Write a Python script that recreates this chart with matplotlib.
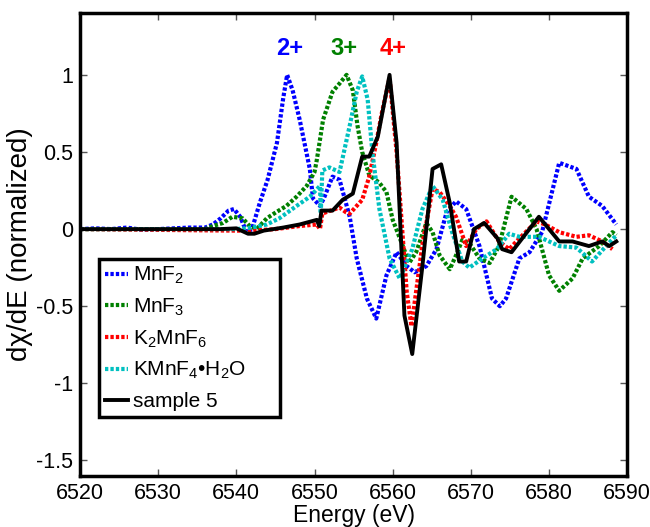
import matplotlib
matplotlib.use("Agg")
import matplotlib.pyplot as plt

plt.rcParams['font.family'] = ['Liberation Sans', 'DejaVu Sans']
plt.rcParams['mathtext.fontset'] = 'custom'
plt.rcParams['mathtext.rm'] = 'Liberation Sans'
plt.rcParams['mathtext.it'] = 'Liberation Sans:italic'

# energies (eV) and normalized derivative values
e_mnf2 = [6520, 6522, 6524, 6526, 6528, 6530, 6532, 6534, 6536, 6537, 6538, 6539, 6539.7,
          6540.5, 6541.3, 6542, 6543, 6544, 6545.2, 6546, 6546.5, 6547.2, 6548.1, 6549.4,
          6549.8, 6550.7, 6551.2, 6552.3, 6553.2, 6554.5, 6555.4, 6556.7, 6557.9, 6559.2,
          6560.5, 6561.8, 6562.8, 6564.3, 6565.6, 6566.9, 6568.1, 6569.4, 6571.1, 6572.7,
          6573.7, 6574.5, 6576.2, 6577.5, 6579.1, 6581.3, 6583.5, 6585.1, 6586.8, 6588.6]
y_mnf2 = [0.0, 0.005, 0.0, 0.01, -0.005, 0.0, 0.005, 0.01, 0.01, 0.03, 0.07, 0.12, 0.13,
          0.08, -0.02, 0.0, 0.17, 0.32, 0.56, 0.85, 1.0, 0.9, 0.71, 0.39,
          0.2, 0.15, 0.2, 0.34, 0.32, 0.08, -0.19, -0.45, -0.58, -0.3,
          -0.15, -0.24, -0.28, -0.24, -0.13, 0.11, 0.18, 0.13, -0.11, -0.45,
          -0.5, -0.45, -0.19, -0.15, -0.02, 0.43, 0.39, 0.21, 0.15, 0.03]

e_mnf3 = [6520, 6530, 6536, 6537, 6538.3, 6539.5, 6540.8, 6541.7, 6542.6, 6543.9, 6545.1,
          6546.4, 6547.7, 6549, 6550, 6550.3, 6551.1, 6552.3, 6553.3, 6554.1, 6554.9,
          6555.5, 6556.1, 6557, 6558.3, 6559.2, 6560, 6561.3, 6562.1, 6563, 6564.3,
          6565.1, 6566, 6567.3, 6568.1, 6568.9, 6569.8, 6571.1, 6572.4, 6573.6, 6575.2,
          6577.1, 6578.4, 6580, 6581.3, 6583, 6584.3, 6586.4, 6588.1, 6588.6]
y_mnf3 = [0.0, 0.0, 0.0, 0.02, 0.04, 0.08, 0.07, 0.02, 0.0, 0.07, 0.11,
          0.15, 0.21, 0.28, 0.37, 0.45, 0.71, 0.89, 0.95, 1.0, 0.9,
          0.67, 0.5, 0.35, 0.3, 0.24, 0.06, -0.11, -0.22, -0.15, 0.04,
          -0.02, -0.17, -0.26, -0.17, -0.07, -0.09, -0.19, -0.22, -0.11, 0.21,
          0.13, 0.0, -0.3, -0.4, -0.32, -0.19, -0.11, -0.02, -0.04]

e_k2mnf6 = [6520, 6530, 6540, 6542, 6545, 6548.1, 6550.3, 6550.7, 6551, 6551.5, 6553.2,
            6554, 6554.5, 6556.1, 6557, 6557.9, 6558.6, 6559.6, 6560.5, 6561.8, 6562.4,
            6563.8, 6565.1, 6566, 6567.3, 6568.1, 6569.4, 6570.7, 6572, 6573.6, 6574.9,
            6576.2, 6578.4, 6579.5, 6581.3, 6583.5, 6585.1, 6586.8, 6588.1]
y_k2mnf6 = [0.0, -0.005, -0.01, -0.01, 0.0, 0.02, 0.03, 0.0, 0.1, 0.11, 0.14,
            0.11, 0.1, 0.19, 0.34, 0.56, 0.75, 0.98, 0.5, -0.41, -0.63,
            -0.1, 0.26, 0.24, 0.15, 0.08, -0.11, 0.0, 0.05, -0.08, -0.13,
            -0.06, 0.05, 0.03, -0.02, -0.05, -0.04, -0.08, -0.13]

e_kmnf4 = [6520, 6530, 6540, 6542, 6543.9, 6545.5, 6547.7, 6549.4, 6550.7, 6550.8, 6551,
           6551.9, 6553.2, 6554.5, 6555.4, 6556.1, 6556.8, 6557.4, 6558.3, 6559.6, 6560.9,
           6562.5, 6563.8, 6565.1, 6566.4, 6567.6, 6568.9, 6569.8, 6571.5, 6573.3, 6574.9,
           6576.2, 6578.7, 6581.3, 6583.5, 6585.5, 6587.3, 6588.6]
y_kmnf4 = [0.0, 0.0, 0.0, 0.01, 0.03, 0.07, 0.15, 0.21, 0.28, 0.1, 0.38,
           0.4, 0.37, 0.67, 0.89, 0.99, 0.84, 0.5, 0.13, -0.19, -0.32,
           -0.13, 0.13, 0.28, 0.19, -0.02, -0.21, -0.25, -0.19, -0.13, -0.03,
           -0.05, -0.05, -0.11, -0.12, -0.21, -0.11, -0.04]

e_s5 = [6520, 6530, 6538, 6540, 6541.5, 6542.3, 6543.5, 6546, 6548.1, 6550.3, 6550.6,
        6550.9, 6552.3, 6553.6, 6554.9, 6556.1, 6557, 6558.1, 6559.6, 6560.5, 6561.5,
        6562.5, 6563.8, 6565.1, 6566.2, 6567.3, 6568.5, 6569.4, 6570.4, 6571.7, 6573.4,
        6574, 6575.2, 6578.7, 6581.3, 6583, 6585.1, 6586.8, 6587.7, 6588.6]
y_s5 = [0.0, 0.0, 0.0, 0.005, -0.03, -0.03, -0.01, 0.01, 0.03, 0.06, 0.02,
        0.12, 0.12, 0.19, 0.23, 0.47, 0.47, 0.6, 1.0, 0.56, -0.56,
        -0.81, -0.24, 0.39, 0.42, 0.17, -0.21, -0.21, 0.0, 0.04, -0.06,
        -0.13, -0.15, 0.08, -0.08, -0.08, -0.11, -0.08, -0.11, -0.08]

ox_labels = ['2+', '3+', '4+']
ox_x = [6546.8, 6553.8, 6560.0]
ox_colors = ['#0000ff', '#008000', '#ff0000']

fig = plt.figure(figsize=(6.5, 5.27), dpi=100)
ax = fig.add_axes([0.123, 0.097, 0.842, 0.878])

dots = (0, (0.8, 0.5))
ax.plot(e_mnf2, y_mnf2, color='#0000ff', lw=3, linestyle=dots, dash_capstyle='butt', label='MnF$_2$')
ax.plot(e_mnf3, y_mnf3, color='#008000', lw=3, linestyle=dots, dash_capstyle='butt', label='MnF$_3$')
ax.plot(e_k2mnf6, y_k2mnf6, color='#ff0000', lw=3, linestyle=dots, dash_capstyle='butt',
        label='K$_2$MnF$_6$')
ax.plot(e_kmnf4, y_kmnf4, color='#00c0c0', lw=3, linestyle=dots, dash_capstyle='butt',
        label='KMnF$_4$\u2022H$_2$O')
ax.plot(e_s5, y_s5, color='black', lw=2.8, label='sample 5')

for lab, xx, c in zip(ox_labels, ox_x, ox_colors):
    ax.text(xx, 1.17, lab, color=c, fontsize=17, fontweight='bold', ha='center', va='center')

ax.set_xlim(6520, 6590)
ax.set_ylim(-1.6, 1.4)
ax.set_xticks(range(6520, 6591, 10))
ax.set_yticks([-1.5, -1, -0.5, 0, 0.5, 1])
ax.set_yticklabels(['-1.5', '-1', '-0.5', '0', '0.5', '1'])
ax.tick_params(direction='in', length=5, width=1, color='#555555', labelsize=15.5,
               top=True, right=True, pad=5)
for s in ax.spines.values():
    s.set_linewidth(2.5)

ax.set_xlabel('Energy (eV)', fontsize=16.5, labelpad=0)
ax.set_ylabel('d\u03c7/dE (normalized)', fontsize=20, labelpad=2)

leg = ax.legend(loc='lower left', bbox_to_anchor=(0.035, 0.127, 0.331, 0.354), mode='expand',
                fontsize=15, handlelength=1.1, handletextpad=0.25, labelspacing=0.5,
                borderpad=0.3, borderaxespad=0, fancybox=False, framealpha=1)
leg.get_frame().set_edgecolor('black')
leg.get_frame().set_linewidth(2.5)

fig.savefig('out.png', dpi=100)
